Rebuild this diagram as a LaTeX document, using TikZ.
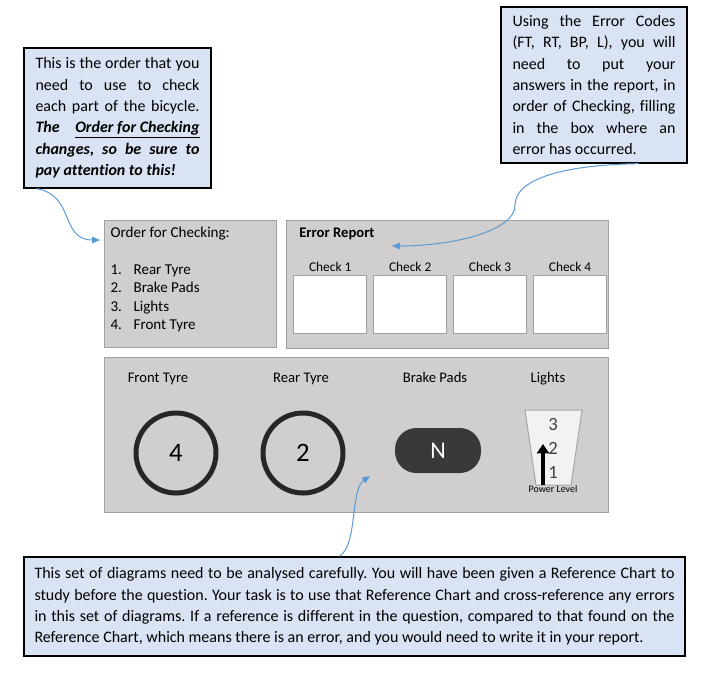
\documentclass[tikz,border=0pt]{standalone}
\usepackage{fontspec}
\setmainfont{Carlito}[Ligatures=NoCommon]
\usepackage{xcolor}
\usepackage{tikz}
\usetikzlibrary{
    arrows.meta,
    positioning
}
\frenchspacing

\definecolor{notefill}{HTML}{DAE3F3}
\definecolor{panelfill}{HTML}{D0CECE}
\definecolor{paneledge}{HTML}{A0A0A0}
\definecolor{tyredark}{HTML}{262626}
\definecolor{paddark}{HTML}{3B3838}
\definecolor{gaugefill}{HTML}{F2F2F2}
\definecolor{gaugeedge}{HTML}{A6A6A6}
\definecolor{levelgray}{HTML}{404040}
\definecolor{pointerblue}{HTML}{5B9BD5}

\begin{document}
\begin{tikzpicture}[
    x=0.75pt,
    y=-0.75pt,
    note/.style={
        draw,
        fill=notefill,
        line width=1pt,
        align=justify,
        inner sep=0pt,
        font=\fontsize{12}{16}\selectfont
    },
    panel/.style={
        draw=paneledge,
        fill=panelfill,
        line width=1.1pt,
        inner sep=0pt,
        anchor=north west
    },
    checkbox/.style={
        draw=paneledge,
        fill=white,
        line width=1.1pt,
        minimum width=54.75pt,
        minimum height=43.5pt,
        inner sep=0pt
    },
    checklabel/.style={
        inner sep=1pt,
        font=\fontsize{10}{12}\selectfont
    },
    partlabel/.style={
        anchor=base,
        inner sep=1pt,
        font=\fontsize{11}{13}\selectfont
    },
    tyre/.style={
        circle,
        draw=tyredark,
        line width=3.75pt,
        minimum size=60pt,
        font=\fontsize{20}{24}\selectfont
    },
    levelnum/.style={
        inner sep=0pt,
        text=levelgray,
        font=\fontsize{14}{16}\selectfont
    },
    pointer/.style={
        draw=pointerblue,
        line width=0.75pt,
        -{Triangle[length=6pt,width=5pt]}
    }
]

\useasboundingbox (0,0) rectangle (702,672);

\node[note, text width=123pt, minimum width=140.25pt, minimum height=105pt]
(ordernote) at (117.5,118)
{This is the order that you\linebreak
need to use to check\linebreak
each part of the bicycle.\linebreak
\textbf{\textit{The \underline{Order for Checking}}}\linebreak
\textbf{\textit{changes, so be sure to}}\linebreak
\textbf{\textit{pay attention to this!}}};

\node[note, text width=122.25pt, minimum width=139.5pt, minimum height=117pt]
(reportnote) at (594,85)
{Using the Error Codes\linebreak
(FT, RT, BP, L), you will\linebreak
need to put your\linebreak
answers in the report, in\linebreak
order of Checking, filling\linebreak
in the box where an\linebreak
error has occurred.};

\node[note, text width=480pt, minimum width=495.75pt, minimum height=74.25pt]
(bignote) at (354.5,606.5)
{This set of diagrams need to be analysed carefully. You will have been given a Reference Chart to\linebreak
study before the question. Your task is to use that Reference Chart and cross-reference any errors\linebreak
in this set of diagrams. If a reference is different in the question, compared to that found on the\linebreak
Reference Chart, which means there is an error, and you would need to write it in your report.};

\node[panel, minimum width=129pt, minimum height=95.25pt] (orderbox) at (104,220) {};

\node[inner sep=1pt, anchor=north west, align=left,
font=\fontsize{11.3}{13.9}\selectfont] (orderlist) at (109,225)
{Order for Checking:\\[13.9pt]
\makebox[17.25pt][l]{1.}Rear Tyre\\
\makebox[17.25pt][l]{2.}Brake Pads\\
\makebox[17.25pt][l]{3.}Lights\\
\makebox[17.25pt][l]{4.}Front Tyre};

\node[panel, minimum width=241.5pt, minimum height=96pt] (reportbox) at (286,220) {};

\node[anchor=west, inner sep=0pt,
font=\bfseries\fontsize{11}{13}\selectfont] (reporttitle) at (299,234)
{Error Report};

\node[checkbox, anchor=north west] (check1) at (293,275) {};
\node[checkbox, right=4.1pt of check1] (check2) {};
\node[checkbox, right=4.1pt of check2] (check3) {};
\node[checkbox, right=4.1pt of check3] (check4) {};

\node[checklabel, above=1.5pt of check1] (check1label) {Check 1};
\node[checklabel, above=1.5pt of check2] (check2label) {Check 2};
\node[checklabel, above=1.5pt of check3] (check3label) {Check 3};
\node[checklabel, above=1.5pt of check4] (check4label) {Check 4};

\node[panel, minimum width=378pt, minimum height=116.25pt] (partspanel) at (104,357) {};

\node[partlabel] (fronttitle) at (158,382) {Front Tyre};
\node[partlabel] (reartitle) at (301,382) {Rear Tyre};
\node[partlabel] (padtitle) at (435,382) {Brake Pads};
\node[partlabel] (lighttitle) at (548,382) {Lights};

\node[tyre] (fronttyre) at (176,453) {4};
\node[tyre] (reartyre) at (303,453) {2};

\node[fill=paddark, rounded corners=16pt, minimum width=64.5pt,
minimum height=33.75pt, text=white,
font=\fontsize{18}{20}\selectfont] (brakepad) at (438,450.5) {N};

\draw[draw=gaugeedge, fill=gaugefill, line width=0.75pt]
(525,410) -- (582,410) -- (571,485) -- (536,485) -- cycle;

\node[levelnum] (level3) at (553,424) {3};
\node[levelnum] (level2) at (553,448) {2};
\node[levelnum] (level1) at (553,472) {1};

\node[inner sep=0pt, font=\fontsize{7.5}{9}\selectfont] (powerlabel) at (553,489)
{Power Level};

\coordinate (powerbase) at (543,485);
\coordinate (powertip) at (543,444);
\draw[-{Triangle[length=7pt,width=9pt]}, line width=3pt] (powerbase) -- (powertip);

\coordinate (ordertip) at (100,240);
\coordinate (reporttip) at (392,246);
\coordinate (partstip) at (370,476);

\draw[pointer] ([xshift=10pt]ordernote.south west)
.. controls (75,195) and (60,240) .. (ordertip);
\draw[pointer] ([xshift=-37pt]reportnote.south east)
.. controls (560,165) and (515,180) .. (515,205)
.. controls (515,232) and (450,246) .. (reporttip);
\draw[pointer] ([xshift=237pt]bignote.north west)
.. controls (358,545) and (350,490) .. (partstip);

\end{tikzpicture}
\end{document}
